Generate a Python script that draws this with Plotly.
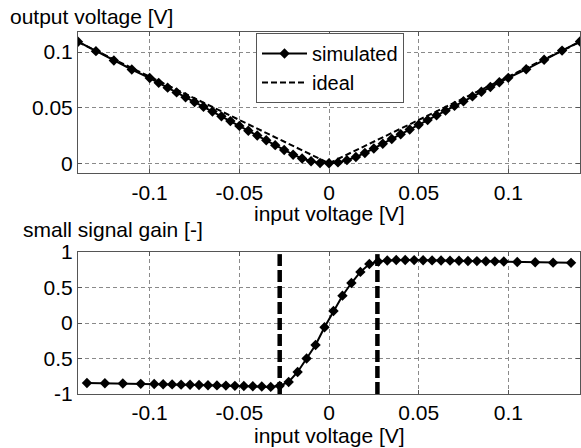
import plotly.graph_objects as go

# ---- data ----
x_out = [-0.14, -0.13, -0.12, -0.11, -0.10, -0.095, -0.09, -0.085, -0.08, -0.075,
         -0.07, -0.065, -0.06, -0.055, -0.05, -0.045, -0.04, -0.035, -0.03, -0.025,
         -0.02, -0.015, -0.01, -0.005, 0.0, 0.005, 0.01, 0.015, 0.02, 0.025,
         0.03, 0.035, 0.04, 0.045, 0.05, 0.055, 0.06, 0.065, 0.07, 0.075,
         0.08, 0.085, 0.09, 0.095, 0.10, 0.11, 0.12, 0.13, 0.14]
y_sim = [0.1093, 0.1008, 0.0924, 0.0843, 0.0766, 0.0723, 0.0680, 0.0637, 0.0594, 0.0551,
         0.0508, 0.0465, 0.0422, 0.0379, 0.0336, 0.0293, 0.0250, 0.0207, 0.0163, 0.0119,
         0.0077, 0.0043, 0.0018, 0.0003, 0.0, 0.0008, 0.0028, 0.0056, 0.0092, 0.0133,
         0.0176, 0.0218, 0.0261, 0.0303, 0.0346, 0.0388, 0.0431, 0.0473, 0.0516, 0.0558,
         0.0601, 0.0643, 0.0686, 0.0728, 0.0768, 0.0845, 0.0930, 0.1013, 0.1095]
x_ideal = [-0.14, 0.0, 0.14]
y_ideal = [0.109, 0.0, 0.109]

x_gain = [-0.135, -0.125, -0.115, -0.105, -0.0975, -0.0925, -0.0875, -0.0825, -0.0775, -0.0725,
          -0.0675, -0.0625, -0.0575, -0.0525, -0.0475, -0.0425, -0.0375, -0.0325, -0.0275, -0.0225,
          -0.0175, -0.0125, -0.0075, -0.0025, 0.0025, 0.0075, 0.0125, 0.0175, 0.0225, 0.0275,
          0.0325, 0.0375, 0.0425, 0.0475, 0.0525, 0.0575, 0.0625, 0.0675, 0.0725, 0.0775,
          0.0825, 0.0875, 0.0925, 0.0975, 0.105, 0.115, 0.125, 0.135]
y_gain = [-0.845, -0.848, -0.852, -0.857, -0.860, -0.862, -0.865, -0.868, -0.870, -0.873,
          -0.876, -0.879, -0.882, -0.885, -0.888, -0.890, -0.895, -0.900, -0.885, -0.830,
          -0.690, -0.500, -0.310, -0.060, 0.170, 0.385, 0.563, 0.720, 0.830, 0.865,
          0.880, 0.887, 0.887, 0.886, 0.884, 0.882, 0.880, 0.878, 0.876, 0.874,
          0.872, 0.870, 0.868, 0.866, 0.860, 0.855, 0.850, 0.847]
limit_x = [-0.0275, 0.027]

x_ticks = [-0.1, -0.05, 0, 0.05, 0.1]
x_ticktext = ["-0.1", "-0.05", "0", "0.05", "0.1"]
y1_ticks = [0, 0.05, 0.1]
y1_ticktext = ["0", "0.05", "0.1"]
y2_ticks = [-1, -0.5, 0, 0.5, 1]
y2_ticktext = ["-1", "0.5", "0", "0.5", "1"]

FONT = "Liberation Sans, Arial, sans-serif"
FS = 21
W, H = 581, 448
L, R = 78, 1

fig = go.Figure()
fig.add_trace(go.Scatter(x=x_out, y=y_sim, mode="lines+markers", name="simulated",
                         line=dict(color="black", width=2),
                         marker=dict(symbol="diamond", size=8, color="black"),
                         xaxis="x", yaxis="y"))
fig.add_trace(go.Scatter(x=x_ideal, y=y_ideal, mode="lines", name="ideal",
                         line=dict(color="black", width=2, dash="6px,3px"),
                         xaxis="x", yaxis="y"))
fig.add_trace(go.Scatter(x=x_gain, y=y_gain, mode="lines+markers", showlegend=False,
                         line=dict(color="black", width=2),
                         marker=dict(symbol="diamond", size=8, color="black"),
                         xaxis="x2", yaxis="y2"))
for lx in limit_x:
    fig.add_trace(go.Scatter(x=[lx, lx], y=[-1, 0.97], mode="lines", showlegend=False,
                             line=dict(color="black", width=4.5, dash="12px,4px"),
                             xaxis="x2", yaxis="y2"))

axis_common = dict(showline=True, linecolor="#555", linewidth=1, mirror="ticks",
                   ticks="inside", ticklen=4, tickcolor="#555", automargin=False,
                   showgrid=True, gridcolor="#8a8a8a", gridwidth=1, griddash="4px,3px",
                   zeroline=False, tickfont=dict(family=FONT, size=FS, color="black"))

def py(px):
    return 1 - px / H

fig.update_layout(
    template="none",
    width=W, height=H, margin=dict(l=L, r=R, t=0, b=0, pad=0, autoexpand=False),
    paper_bgcolor="white", plot_bgcolor="white",
    showlegend=True,
    xaxis=dict(range=[-0.14, 0.14], tickvals=x_ticks, ticktext=x_ticktext,
               domain=[0, 1], anchor="y", **axis_common),
    yaxis=dict(range=[-0.009, 0.118], tickvals=y1_ticks, ticktext=y1_ticktext,
               domain=[py(173.3), py(32)], anchor="x", **axis_common),
    xaxis2=dict(range=[-0.14, 0.14], tickvals=x_ticks, ticktext=x_ticktext,
                domain=[0, 1], anchor="y2", **axis_common),
    yaxis2=dict(range=[-1, 1], tickvals=y2_ticks, ticktext=y2_ticktext,
                domain=[py(394), py(252)], anchor="x2", **axis_common),
    legend=dict(x=(256 - L) / (W - L - R), y=py(33), xanchor="left", yanchor="top",
                bgcolor="white", bordercolor="#555", borderwidth=1,
                font=dict(family=FONT, size=20, color="black"),
                itemwidth=45, tracegroupgap=0),
    annotations=[
        dict(text="output voltage [V]", xref="paper", yref="paper",
             x=(8 - L) / (W - L - R), y=py(16.5), xanchor="left", yanchor="middle",
             showarrow=False, font=dict(family=FONT, size=FS, color="black")),
        dict(text="input voltage [V]", xref="paper", yref="paper",
             x=0.5, y=py(213), xanchor="center", yanchor="middle",
             showarrow=False, font=dict(family=FONT, size=FS, color="black")),
        dict(text="small signal gain [-]", xref="paper", yref="paper",
             x=(20.7 - L) / (W - L - R), y=py(229), xanchor="left", yanchor="middle",
             showarrow=False, font=dict(family=FONT, size=FS, color="black")),
        dict(text="input voltage [V]", xref="paper", yref="paper",
             x=0.5, y=py(435), xanchor="center", yanchor="middle",
             showarrow=False, font=dict(family=FONT, size=FS, color="black")),
    ],
)

fig.write_html("out.html")
